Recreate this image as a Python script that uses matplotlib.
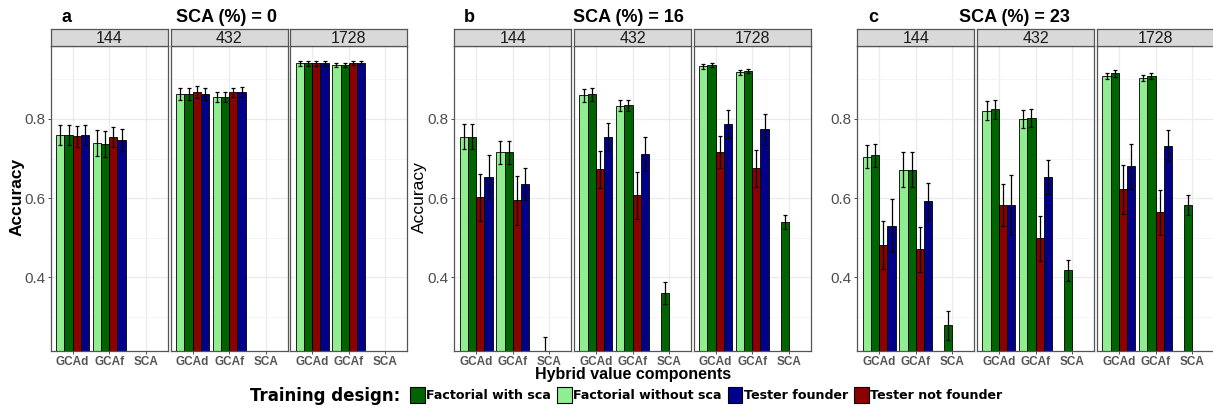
import numpy as np
import matplotlib
matplotlib.use("Agg")
import matplotlib.pyplot as plt
from matplotlib.patches import Patch

# facettes, composantes et schémas d'entraînement
sizes = ["144", "432", "1728"]
components = ["GCAd", "GCAf", "SCA"]
# ordre des barres dans chaque groupe
designs = ["Factorial without sca", "Factorial with sca", "Tester not founder", "Tester founder"]
design_colors = ["#90EE90", "#006400", "#8B0000", "#00008B"]
legend_order = ["Factorial with sca", "Factorial without sca", "Tester founder", "Tester not founder"]
sca_levels = ["0", "16", "23"]
panel_tags = ["a", "b", "c"]

nan = np.nan
# moyenne [taille][composante][schéma]
acc_sca0 = [
    [[0.760, 0.760, 0.756, 0.760], [0.739, 0.737, 0.754, 0.746], [nan, nan, nan, nan]],
    [[0.862, 0.862, 0.867, 0.862], [0.856, 0.856, 0.867, 0.868], [nan, nan, nan, nan]],
    [[0.941, 0.941, 0.941, 0.941], [0.936, 0.936, 0.941, 0.941], [nan, nan, nan, nan]],
]
err_sca0 = [
    [[0.026, 0.026, 0.026, 0.026], [0.032, 0.032, 0.025, 0.028], [nan, nan, nan, nan]],
    [[0.015, 0.015, 0.015, 0.015], [0.013, 0.013, 0.012, 0.012], [nan, nan, nan, nan]],
    [[0.006, 0.006, 0.006, 0.006], [0.006, 0.006, 0.005, 0.005], [nan, nan, nan, nan]],
]
acc_sca16 = [
    [[0.755, 0.755, 0.602, 0.653], [0.716, 0.716, 0.595, 0.636], [nan, 0.205, nan, nan]],
    [[0.860, 0.862, 0.673, 0.755], [0.833, 0.835, 0.607, 0.712], [nan, 0.360, nan, nan]],
    [[0.933, 0.936, 0.716, 0.787], [0.918, 0.921, 0.675, 0.774], [nan, 0.539, nan, nan]],
]
err_sca16 = [
    [[0.032, 0.032, 0.059, 0.056], [0.029, 0.029, 0.062, 0.040], [nan, 0.045, nan, nan]],
    [[0.016, 0.016, 0.046, 0.036], [0.014, 0.014, 0.059, 0.043], [nan, 0.028, nan, nan]],
    [[0.006, 0.006, 0.041, 0.035], [0.006, 0.006, 0.046, 0.039], [nan, 0.018, nan, nan]],
]
acc_sca23 = [
    [[0.705, 0.708, 0.482, 0.531], [0.672, 0.672, 0.471, 0.592], [nan, 0.279, nan, nan]],
    [[0.821, 0.825, 0.584, 0.583], [0.800, 0.803, 0.499, 0.653], [nan, 0.418, nan, nan]],
    [[0.909, 0.915, 0.622, 0.681], [0.903, 0.908, 0.564, 0.733], [nan, 0.582, nan, nan]],
]
err_sca23 = [
    [[0.029, 0.030, 0.061, 0.066], [0.044, 0.044, 0.057, 0.047], [nan, 0.037, nan, nan]],
    [[0.024, 0.024, 0.053, 0.076], [0.022, 0.022, 0.057, 0.043], [nan, 0.026, nan, nan]],
    [[0.008, 0.008, 0.062, 0.057], [0.008, 0.008, 0.056, 0.038], [nan, 0.025, nan, nan]],
]
all_acc = [acc_sca0, acc_sca16, acc_sca23]
all_err = [err_sca0, err_sca16, err_sca23]

W, H = 1213, 412
plt.rcParams["font.family"] = ["Liberation Sans", "DejaVu Sans"]
fig = plt.figure(figsize=(W / 100, H / 100), dpi=100)

# police de la légende (type Verdana gras)
legend_font = ["DejaVu Sans"]


def px_axes(x0, y_top, w, h):
    # coordonnées en pixels -> fraction de figure
    return fig.add_axes([x0 / W, 1 - (y_top + h) / H, w / W, h / H])


facet_lefts = [[50.7, 170.7, 290.3], [454.3, 574.0, 693.7], [857.3, 977.0, 1097.0]]
facet_w = 117
plot_top, plot_h = 45.7, 305
strip_top, strip_h = 29.3, 16.4
title_x = [227, 628, 1014]
tag_x = [62, 464, 868]
ylab_x = [17, 419, None]

bar_w = 0.225
offsets = (np.arange(4) - 1.5) * bar_w
xpos = np.arange(1, 4)

for p in range(3):
    acc = np.array(all_acc[p])
    err = np.array(all_err[p])
    for s in range(3):
        ax = px_axes(facet_lefts[p][s], plot_top, facet_w, plot_h)
        for d in range(4):
            ax.bar(xpos + offsets[d], acc[s, :, d], width=bar_w, color=design_colors[d],
                   edgecolor="black", linewidth=0.6, zorder=2)
            ax.errorbar(xpos + offsets[d], acc[s, :, d], yerr=err[s, :, d], fmt="none",
                        ecolor="black", elinewidth=0.9, capsize=1.5, capthick=0.9, zorder=3)
        ax.set_xlim(0.4, 3.6)
        ax.set_ylim(0.215, 0.985)
        ax.set_yticks([0.4, 0.6, 0.8])
        ax.set_yticks([0.3, 0.5, 0.7, 0.9], minor=True)
        ax.set_xticks(xpos)
        ax.set_xticklabels(components, fontsize=8.5, fontweight="bold", color="#555555")
        ax.set_yticklabels(["0.4", "0.6", "0.8"], fontsize=11, color="#4D4D4D")
        ax.grid(which="major", color="#EBEBEB", linewidth=0.9, zorder=0)
        ax.grid(which="minor", axis="y", color="#F2F2F2", linewidth=0.5, zorder=0)
        ax.set_axisbelow(True)
        ax.tick_params(which="major", length=2.5, width=0.6, color="#333333", pad=1.5)
        ax.tick_params(which="minor", length=0)
        if s > 0:
            ax.tick_params(labelleft=False, left=False)
        for sp in ax.spines.values():
            sp.set_color("#555555")
            sp.set_linewidth(0.9)

        # bandeau de facette
        st = px_axes(facet_lefts[p][s], strip_top, facet_w, strip_h)
        st.set_facecolor("#D9D9D9")
        st.set_xticks([])
        st.set_yticks([])
        for sp in st.spines.values():
            sp.set_color("#555555")
            sp.set_linewidth(0.9)
        st.text(0.5, 0.45, sizes[s], ha="center", va="center", fontsize=11.5, color="#1A1A1A",
                transform=st.transAxes)

    fig.text(title_x[p] / W, 1 - 17 / H, "SCA (%) = " + sca_levels[p], ha="center", va="center",
             fontsize=13, fontweight="bold")
    fig.text(tag_x[p] / W, 1 - 17 / H, panel_tags[p], ha="left", va="center",
             fontsize=13, fontweight="bold")
    if ylab_x[p] is not None:
        fig.text(ylab_x[p] / W, 1 - 197 / H, "Accuracy", ha="center", va="center", rotation=90,
                 fontsize=12.5, fontweight="bold" if p == 0 else "normal")

fig.text(633 / W, 1 - 375 / H, "Hybrid value components", ha="center", va="center",
         fontsize=11.5, fontweight="bold")
fig.text(250 / W, 1 - 396 / H, "Training design:", ha="left", va="center",
         fontsize=12.0, family=legend_font, fontweight="bold")

handles = [Patch(facecolor=design_colors[designs.index(n)], edgecolor="black", linewidth=0.8)
           for n in legend_order]
fig.legend(handles, legend_order, loc="center left", bbox_to_anchor=(410 / W, 1 - 395 / H),
           ncol=4, frameon=False, handlelength=1.15, handleheight=1.5, handletextpad=0.15,
           columnspacing=0.45, borderpad=0, borderaxespad=0,
           prop={"family": legend_font, "weight": "bold", "size": 9.1})

fig.savefig("out.png", dpi=100)
